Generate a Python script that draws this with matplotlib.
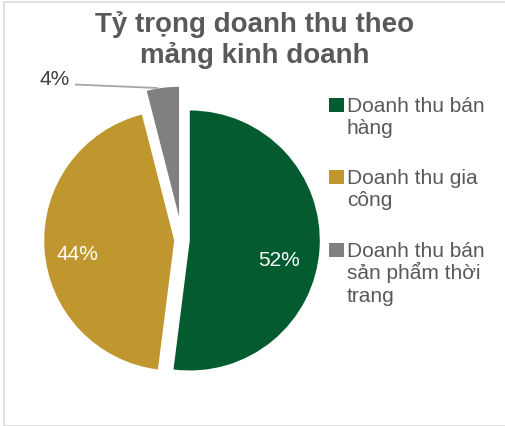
import matplotlib
matplotlib.use("Agg")
import matplotlib.pyplot as plt
from matplotlib.patches import Rectangle

plt.rcParams['font.family'] = ['Liberation Sans', 'DejaVu Sans']

# ---- data ----
categories = ["Doanh thu bán hàng", "Doanh thu gia công", "Doanh thu bán sản phẩm thời trang"]
legend_lines = [["Doanh thu bán", "hàng"], ["Doanh thu gia", "công"],
                ["Doanh thu bán", "sản phẩm thời", "trang"]]
values = [52, 44, 4]
pct_labels = ["52%", "44%", "4%"]
colors = ["#035B2F", "#C0962F", "#808080"]
explode = [0.06, 0.06, 0.18]
title_lines = ["Tỷ trọng doanh thu theo", "mảng kinh doanh"]

W, H = 505, 426
fig = plt.figure(figsize=(W / 100, H / 100), dpi=100)

# outer border
fig.add_artist(Rectangle((4 / W, 0.5 / H), (W + 2 - 4) / W, (H - 2) / H,
                         transform=fig.transFigure, fill=False,
                         edgecolor="#D9D9D9", linewidth=1.2))

# pie axes: radius 130 px, centre at (182, 240) px from top-left
R = 130
L = 1.35
cx, cy = 182, 240
box = 2 * L * R
ax = fig.add_axes([(cx - box / 2) / W, (H - cy - box / 2) / H, box / W, box / H])
wedges, _ = ax.pie(values, colors=colors, explode=explode, startangle=90,
                   counterclock=False, radius=1,
                   wedgeprops=dict(linewidth=0))
ax.set_xlim(-L, L)
ax.set_ylim(-L, L)
ax.set_aspect("equal")
ax.axis("off")

# data labels
ax.text(0.746, -0.154, pct_labels[0], color="white", fontsize=15,
        ha="center", va="center")
ax.text(-0.808, -0.115, pct_labels[1], color="white", fontsize=15,
        ha="center", va="center")
ax.text(-0.977, 1.238, pct_labels[2], color="#404040", fontsize=15,
        ha="center", va="center")
ax.plot([-0.823, -0.185], [1.196, 1.169], color="#A6A6A6", linewidth=1.3,
        solid_capstyle="butt")

# title
for i, line in enumerate(title_lines):
    fig.text(255 / W, 1 - (32 + 31 * i) / H, line, ha="center", va="baseline",
             fontsize=20, fontweight="bold", color="#595959")

# legend (manual, first line aligned with marker)
baselines = [112, 184, 257]
for lines, col, b in zip(legend_lines, colors, baselines):
    fig.add_artist(Rectangle((329 / W, 1 - b / H), 14.5 / W, 14.5 / H,
                             transform=fig.transFigure, facecolor=col,
                             edgecolor="none"))
    for j, line in enumerate(lines):
        fig.text(347 / W, 1 - (b + 22.3 * j) / H, line, ha="left",
                 va="baseline", fontsize=15, color="#595959")

fig.savefig("out.png", dpi=100)
